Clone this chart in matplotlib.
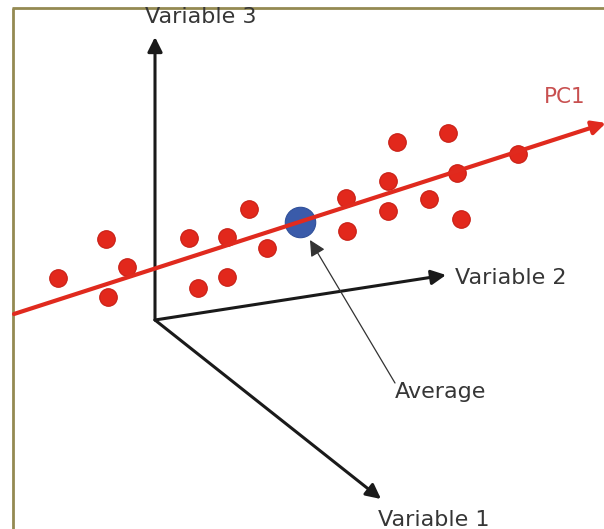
import matplotlib.pyplot as plt

# red observations (pixel-like diagram coordinates, y grows downward)
obs_x = [58, 106, 127, 108, 189, 227, 249, 267, 198, 227,
         397, 448, 388, 346, 388, 429, 457, 518, 347, 461]
obs_y = [278, 239, 267, 297, 238, 237, 209, 248, 288, 277,
         142, 133, 181, 198, 211, 199, 173, 154, 231, 219]

avg_x, avg_y = 300, 222

origin = (155, 320)
var_names = ['Variable 1', 'Variable 2', 'Variable 3']
var_tips = [(381, 499), (446, 275), (155, 37)]

pc1_start = (14, 314)
pc1_end = (606, 123)

fig = plt.figure(figsize=(6.04, 5.29), dpi=100)
ax = fig.add_axes([0, 0, 1, 1])
ax.set_xlim(0, 604)
ax.set_ylim(529, 0)
ax.axis('off')

# frame (only left and top edges visible)
ax.plot([13, 13], [8, 529], color='#948A52', lw=2, solid_capstyle='butt')
ax.plot([12, 604], [8, 8], color='#948A52', lw=2, solid_capstyle='butt')

# variable axes
for tip in var_tips:
    ax.annotate('', xy=tip, xytext=origin,
                arrowprops=dict(arrowstyle='-|>', lw=2.2, color='#1a1a1a',
                                mutation_scale=22, shrinkA=0, shrinkB=0),
                zorder=2)

txt = dict(fontsize=16, color='#363636', family='DejaVu Sans')
ax.text(434, 520, var_names[0], ha='center', va='center', **txt)
ax.text(455, 278, var_names[1], ha='left', va='center', **txt)
ax.text(201, 17, var_names[2], ha='center', va='center', **txt)

# observations and the average
ax.scatter(obs_x, obs_y, s=160, color='#E2281C', edgecolors='#C81E14',
           linewidths=0.8, zorder=3)
ax.scatter([avg_x], [avg_y], s=480, color='#3A5BAA', edgecolors='#30509A',
           linewidths=0.8, zorder=3)

# PC1 line
ax.annotate('', xy=pc1_end, xytext=pc1_start,
            arrowprops=dict(arrowstyle='-|>', lw=3, color='#E02A1E',
                            mutation_scale=20, shrinkA=0, shrinkB=0),
            zorder=4, annotation_clip=False)
ax.text(565, 97, 'PC1', ha='center', va='center', fontsize=15.5,
        color='#C85050', family='DejaVu Sans')

# average pointer
ax.annotate('', xy=(310, 240), xytext=(395, 383),
            arrowprops=dict(arrowstyle='-|>', lw=0.9, color='#333333',
                            mutation_scale=24, shrinkA=0, shrinkB=0),
            zorder=5)
ax.text(395, 392, 'Average', ha='left', va='center', **txt)

fig.savefig('out.png', dpi=100)
